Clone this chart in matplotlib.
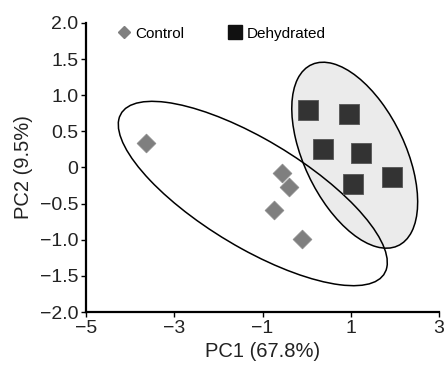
import matplotlib
matplotlib.use("Agg")
import matplotlib.pyplot as plt
from matplotlib.patches import Ellipse
from matplotlib.lines import Line2D

plt.rcParams["font.family"] = ["Liberation Sans", "DejaVu Sans"]

# PCA scores
control_x = [-3.64, -0.56, -0.41, -0.74, -0.10]
control_y = [0.34, -0.08, -0.27, -0.59, -0.99]
dehydrated_x = [0.03, 0.97, 0.36, 1.24, 1.06, 1.94]
dehydrated_y = [0.79, 0.74, 0.25, 0.20, -0.23, -0.13]

# confidence ellipses (centre x, centre y, width, height, angle)
control_ellipse = (-1.22, -0.36, 6.41, 1.61, -18.6)
dehydrated_ellipse = (1.09, 0.17, 3.34, 1.90, -39.2)

x_ticks = [-5, -3, -1, 1, 3]
x_labels = ["\u22125", "\u22123", "\u22121", "1", "3"]
y_ticks = [2.0, 1.5, 1.0, 0.5, 0, -0.5, -1.0, -1.5, -2.0]
y_labels = ["2.0", "1.5", "1.0", "0.5", "0", "\u22120.5", "\u22121.0", "\u22121.5", "\u22122.0"]

fig = plt.figure(figsize=(4.45, 3.66), dpi=100)
ax = fig.add_axes([0.1933, 0.1475, 0.7932, 0.7897])

cx, cy, w, h, ang = dehydrated_ellipse
ax.add_patch(Ellipse((cx, cy), w, h, angle=ang, facecolor="#ebebeb",
                     edgecolor="black", linewidth=1.1, zorder=1))
cx, cy, w, h, ang = control_ellipse
ax.add_patch(Ellipse((cx, cy), w, h, angle=ang, facecolor="none",
                     edgecolor="black", linewidth=1.1, zorder=2))

ax.scatter(control_x, control_y, marker="D", s=92, color="#7f7f7f",
           edgecolor="#8a8a8a", linewidth=0.5, zorder=3)
ax.scatter(dehydrated_x, dehydrated_y, marker="s", s=200, color="#333333",
           edgecolor="#555555", linewidth=0.6, zorder=3)

ax.set_xlim(-5, 3)
ax.set_ylim(-2, 2)
ax.set_xticks(x_ticks)
ax.set_xticklabels(x_labels)
ax.set_yticks(y_ticks)
ax.set_yticklabels(y_labels)
ax.tick_params(direction="out", length=3.5, width=1, pad=2, labelsize=14,
               colors="black", labelcolor="#222222")

for s in ["top", "right"]:
    ax.spines[s].set_visible(False)
for s in ["left", "bottom"]:
    ax.spines[s].set_linewidth(1.6)

ax.set_xlabel("PC1 (67.8%)", fontsize=14.5, color="#222222", labelpad=4)
ax.set_ylabel("PC2 (9.5%)", fontsize=14.5, color="#222222", labelpad=5)

handles = [
    Line2D([], [], linestyle="none", marker="D", markersize=6.5,
           color="#7f7f7f", label="Control"),
    Line2D([], [], linestyle="none", marker="s", markersize=9.5,
           color="#111111", label="Dehydrated"),
]
ax.legend(handles=handles, ncol=2, frameon=False, fontsize=11,
          loc="upper left", bbox_to_anchor=(0.05, 1.035),
          handlelength=0.8, handletextpad=0.35, columnspacing=2.95)

fig.savefig("out.png", dpi=100)
